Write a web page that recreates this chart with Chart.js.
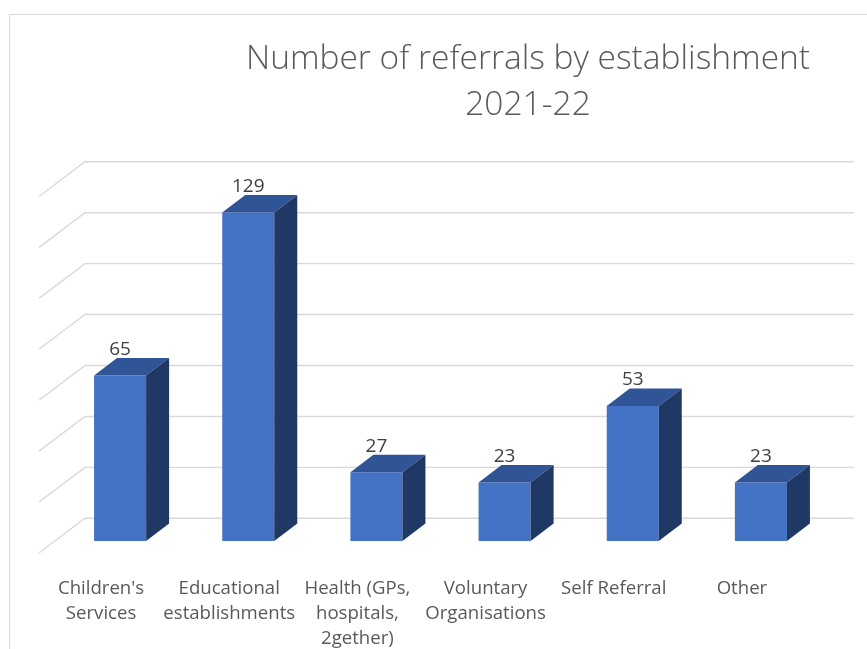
<!DOCTYPE html>
<html>
<head>
<meta charset="utf-8">
<script src="https://cdn.jsdelivr.net/npm/chart.js@4/dist/chart.umd.min.js"></script>
<style>
  html, body { margin: 0; padding: 0; background: #fff; overflow: hidden; width: 867px; height: 649px; }
  #frame { position: absolute; left: 9px; top: 14px; width: 1040px; height: 700px; border: 1px solid #d9d9d9; }
  canvas { display: block; }
</style>
</head>
<body>
<div id="frame"><canvas id="chart" width="1036" height="680"></canvas></div>
<script>
// data
const categories = [
  ["Children's", "Services"],
  ["Educational", "establishments"],
  ["Health (GPs,", "hospitals,", "2gether)"],
  ["Voluntary", "Organisations"],
  ["Self Referral"],
  ["Other"]
];
const referrals = [65, 129, 27, 23, 53, 23];
const gridValues = [0, 20, 40, 60, 80, 100, 120, 140];

const titleLines = ["Number of referrals by establishment", "2021-22"];

// 3d look
const barDepth = { dx: 23, dy: -17.5 };
const wallBack = { dx: 29, dy: -22.7 };
const floorFront = { dx: -17, dy: 12 };

const threeD = {
  id: 'threeD',
  beforeDatasetsDraw(chart) {
    const ctx = chart.ctx;
    const area = chart.chartArea;
    const y = chart.scales.y;
    ctx.save();
    ctx.strokeStyle = '#d9d9d9';
    ctx.lineWidth = 1.4;
    gridValues.forEach(v => {
      const py = y.getPixelForValue(v);
      ctx.beginPath();
      ctx.moveTo(area.left + floorFront.dx, py + floorFront.dy);
      ctx.lineTo(area.left + wallBack.dx, py + wallBack.dy);
      ctx.lineTo(area.right + wallBack.dx, py + wallBack.dy);
      ctx.stroke();
    });
    ctx.restore();
  },
  afterDatasetsDraw(chart) {
    const ctx = chart.ctx;
    const meta = chart.getDatasetMeta(0);
    ctx.save();
    meta.data.forEach((bar, i) => {
      const p = bar.getProps(['x', 'y', 'base', 'width'], true);
      const L = p.x - p.width / 2, R = p.x + p.width / 2, T = p.y, B = p.base;
      // top face
      ctx.fillStyle = '#2F5597';
      ctx.beginPath();
      ctx.moveTo(L, T);
      ctx.lineTo(R, T);
      ctx.lineTo(R + barDepth.dx, T + barDepth.dy);
      ctx.lineTo(L + barDepth.dx, T + barDepth.dy);
      ctx.closePath();
      ctx.fill();
      // side face
      ctx.fillStyle = '#1F3864';
      ctx.beginPath();
      ctx.moveTo(R, T);
      ctx.lineTo(R + barDepth.dx, T + barDepth.dy);
      ctx.lineTo(R + barDepth.dx, B + barDepth.dy);
      ctx.lineTo(R, B);
      ctx.closePath();
      ctx.fill();
      // value label
      ctx.fillStyle = '#404040';
      ctx.font = "19px 'Open Sans'";
      ctx.textAlign = 'center';
      ctx.textBaseline = 'bottom';
      ctx.fillText(String(referrals[i]), p.x, T + barDepth.dy + 1);
    });
    ctx.restore();
  }
};

Chart.defaults.font.family = "'Open Sans', sans-serif";

// hidden axes that only reserve room on the sides
const spacer = (w) => ({
  display: true,
  grid: { display: false, drawTicks: false },
  border: { display: false },
  ticks: { display: false },
  afterFit(scale) { scale.width = w; }
});

new Chart(document.getElementById('chart'), {
  type: 'bar',
  data: {
    labels: categories,
    datasets: [{
      data: referrals,
      backgroundColor: '#4472C4',
      borderWidth: 0,
      categoryPercentage: 1,
      barPercentage: 0.406
    }]
  },
  options: {
    responsive: false,
    animation: false,
    layout: { padding: 0 },
    plugins: {
      legend: { display: false },
      tooltip: { enabled: false },
      title: {
        display: true,
        text: titleLines,
        color: '#595959',
        font: { size: 33.5, weight: 300, lineHeight: 1.38 },
        padding: { top: 21, bottom: 56 }
      }
    },
    scales: {
      y: Object.assign(spacer(46), { position: 'left', min: 0, max: 140 }),
      yRight: Object.assign(spacer(221), { position: 'right', min: 0, max: 140 }),
      x: {
        grid: { display: false, drawTicks: false },
        border: { display: false },
        ticks: {
          color: '#595959',
          font: { size: 18.6, lineHeight: 1.34 },
          padding: 35,
          labelOffset: -19,
          maxRotation: 0,
          autoSkip: false
        },
        afterFit(scale) { scale.height = 154; }
      }
    }
  },
  plugins: [threeD]
});
</script>
</body>
</html>
